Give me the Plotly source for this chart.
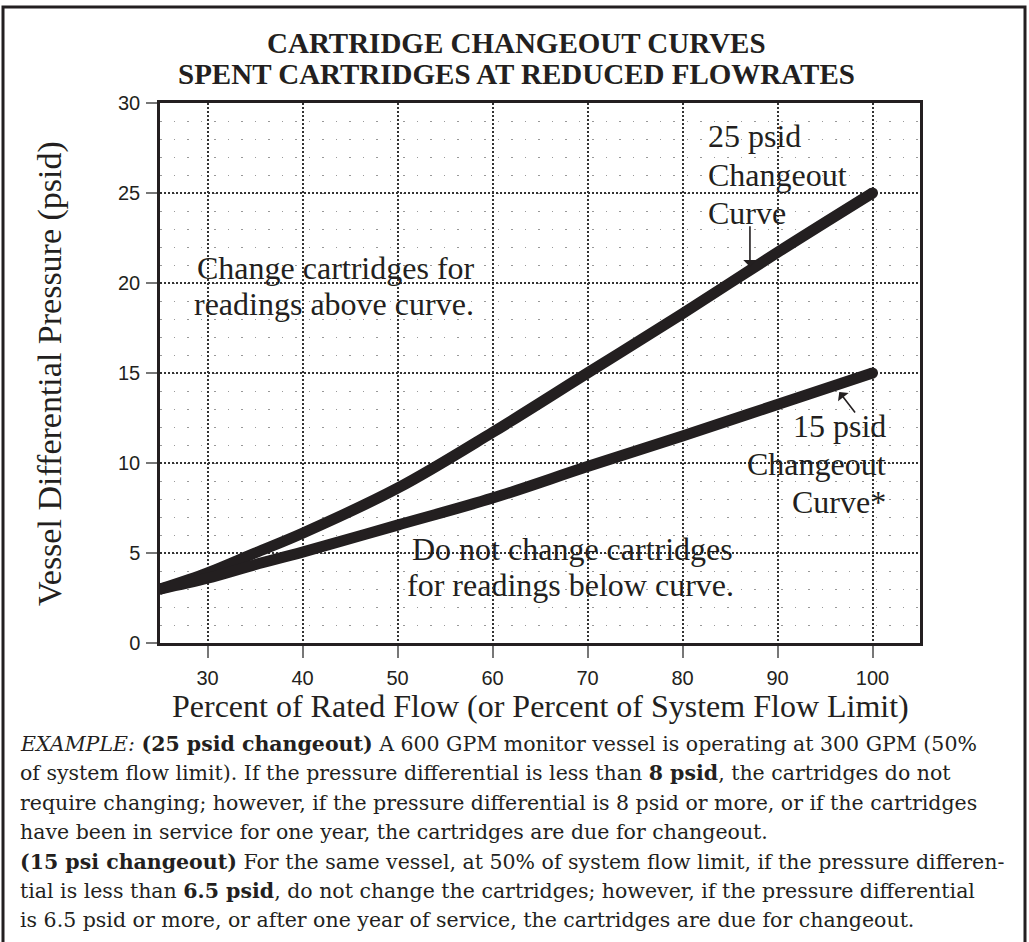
import plotly.graph_objects as go

# ---- data ----
flow_pct = [25, 30, 35, 40, 50, 60, 70, 80, 90, 100]
curve_25psid = [3.0, 3.9, 5.0, 6.1, 8.6, 11.7, 15.0, 18.3, 21.7, 25.0]
curve_15psid = [3.0, 3.6, 4.35, 5.05, 6.55, 8.05, 9.8, 11.5, 13.25, 15.0]
x_ticks = [30, 40, 50, 60, 70, 80, 90, 100]
y_ticks = [0, 5, 10, 15, 20, 25, 30]

title_lines = ["CARTRIDGE CHANGEOUT CURVES", "SPENT CARTRIDGES AT REDUCED FLOWRATES"]
x_title = "Percent of Rated Flow (or Percent of System Flow Limit)"
y_title = "Vessel Differential Pressure (psid)"
body_lines = [
    "<i>EXAMPLE:</i> <b>(25 psid changeout)</b> A 600 GPM monitor vessel is operating at 300 GPM (50%",
    "of system flow limit). If the pressure differential is less than <b>8 psid</b>, the cartridges do not",
    "require changing; however, if the pressure differential is 8 psid or more, or if the cartridges",
    "have been in service for one year, the cartridges are due for changeout.",
    "<b>(15 psi changeout)</b> For the same vessel, at 50% of system flow limit, if the pressure differen-",
    "tial is less than <b>6.5 psid</b>, do not change the cartridges; however, if the pressure differential",
    "is 6.5 psid or more, or after one year of service, the cartridges are due for changeout.",
]

W, H = 1029, 942
L, R, T, B = 160, 920, 103, 643
INK = "#231f20"
SERIF = "Liberation Serif"


def px(xp):
    return (xp - L) / (R - L)


def py(yp):
    return (B - yp) / (B - T)


fig = go.Figure()
for ys in (curve_25psid, curve_15psid):
    fig.add_trace(go.Scatter(x=flow_pct, y=ys, mode="lines", line=dict(color=INK, width=11, shape="spline"),
                             hoverinfo="skip", showlegend=False))
    fig.add_trace(go.Scatter(x=[flow_pct[0], flow_pct[-1]], y=[ys[0], ys[-1]], mode="markers",
                             marker=dict(color=INK, size=11), hoverinfo="skip", showlegend=False))

ann = []
# titles
for i, t in enumerate(title_lines):
    ann.append(dict(text="<b>%s</b>" % t, x=px(516), y=py(43 + 31 * i), xref="paper", yref="paper",
                    showarrow=False, font=dict(family=SERIF, size=29, color=INK), xanchor="center", yanchor="middle"))
# axis titles
ann.append(dict(text=x_title, x=px(540), y=py(706), xref="paper", yref="paper", showarrow=False,
                font=dict(family=SERIF, size=32, color=INK), xanchor="center", yanchor="middle"))
ann.append(dict(text=y_title, x=px(50), y=py(374), xref="paper", yref="paper", showarrow=False, textangle=-90,
                font=dict(family=SERIF, size=34, color=INK), xanchor="center", yanchor="middle"))


def label(text, xp, yp, anchor="left", size=32):
    ann.append(dict(text=text, x=px(xp), y=py(yp), xref="paper", yref="paper", showarrow=False,
                    font=dict(family=SERIF, size=size, color=INK), xanchor=anchor, yanchor="middle"))


label("Change cartridges for", 195, 268)
label("readings above curve.", 192, 304)
label("Do not change cartridges", 410, 549)
label("for readings below curve.", 405, 585)
label("25 psid", 706, 136)
label("Changeout", 706, 175)
label("Curve", 706, 213)
label("15 psid", 888, 426, anchor="right")
label("Changeout", 888, 464, anchor="right")
label("Curve*", 888, 502, anchor="right")

# arrows
ann.append(dict(x=87.1, y=20.9, xref="x", yref="y", ax=0, ay=-42, text="",
                showarrow=True, arrowhead=1, arrowsize=1.4, arrowwidth=1.6, arrowcolor=INK))
ann.append(dict(x=96.5, y=13.95, xref="x", yref="y", ax=17, ay=22, text="",
                showarrow=True, arrowhead=1, arrowsize=1.4, arrowwidth=1.6, arrowcolor=INK))

# body text
for i, t in enumerate(body_lines):
    ann.append(dict(text=t, x=px(18), y=py(744 + 29.4 * i), xref="paper", yref="paper", showarrow=False,
                    font=dict(family="DejaVu Serif", size=20.5, color=INK), xanchor="left", yanchor="middle"))

fig.update_layout(
    width=W, height=H, margin=dict(l=L, r=W - R, t=T, b=H - B),
    paper_bgcolor="white", plot_bgcolor="white",
    annotations=ann,
    shapes=[dict(type="rect", xref="paper", yref="paper", x0=px(3), x1=px(1025), y0=py(960), y1=py(7),
                 line=dict(color=INK, width=3), fillcolor="rgba(0,0,0,0)", layer="below")],
)
fig.update_xaxes(range=[25, 105], tickvals=x_ticks, ticks="outside", ticklen=12, tickwidth=1.5, tickcolor="#777",
                 tickfont=dict(family="Liberation Sans", size=20, color=INK), ticklabelstandoff=3,
                 showline=True, linecolor=INK, linewidth=2.5, mirror=True,
                 showgrid=True, gridcolor="#333", griddash="1.5px,2.5px", gridwidth=1.5,
                 zeroline=False)
fig.update_yaxes(range=[0, 30], tickvals=y_ticks, ticks="outside", ticklen=11, tickwidth=1.5, tickcolor="#777",
                 tickfont=dict(family="Liberation Sans", size=20, color=INK), ticklabelstandoff=2,
                 showline=True, linecolor=INK, linewidth=2.5, mirror=True,
                 showgrid=True, gridcolor="#333", griddash="1.5px,2.5px", gridwidth=1.5,
                 minor=dict(dtick=1, showgrid=True, gridcolor="#999", griddash="1.5px,12px", gridwidth=1.2, ticks=""),
                 zeroline=False)

fig.write_html("out.html", config={"displayModeBar": False},
               post_script="document.body.style.margin='0';document.body.style.overflow='hidden';")
